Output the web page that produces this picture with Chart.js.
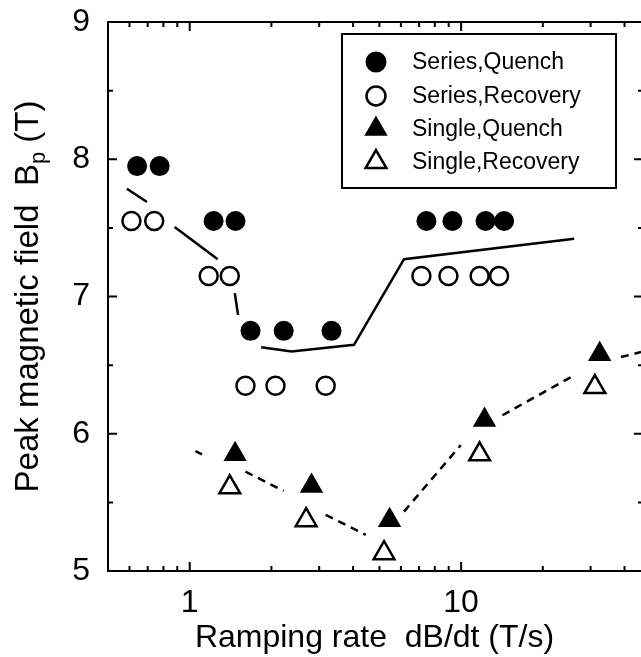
<!DOCTYPE html>
<html>
<head>
<meta charset="utf-8">
<title>Peak magnetic field vs ramping rate</title>
<script src="https://cdn.jsdelivr.net/npm/chart.js@4.4.1/dist/chart.umd.min.js"></script>
<style>
    html, body { margin: 0; padding: 0; background: #fff; overflow: hidden; }
    #grafico { display: block; }
</style>
</head>
<body>
<canvas id="grafico" width="641" height="657"></canvas>
<script>
// ramping rate dB/dt (T/s) x peak field Bp (T)
const rampSeriesQuench = [0.64, 0.775, 1.225, 1.475, 1.675, 2.22, 3.33, 7.45, 9.29, 12.3, 14.4];
const bpSeriesQuench = [7.95, 7.95, 7.55, 7.55, 6.75, 6.75, 6.75, 7.55, 7.55, 7.55, 7.55];

const rampSeriesRecovery = [0.61, 0.74, 1.175, 1.405, 1.605, 2.07, 3.17, 7.14, 8.98, 11.7, 13.8];
const bpSeriesRecovery = [7.55, 7.55, 7.15, 7.15, 6.35, 6.35, 6.35, 7.15, 7.15, 7.15, 7.15];

const rampSingleQuench = [1.47, 2.81, 5.45, 12.2, 32.4];
const bpSingleQuench = [5.85, 5.62, 5.37, 6.10, 6.58];

const rampSingleRecovery = [1.405, 2.685, 5.2, 11.7, 31.1];
const bpSingleRecovery = [5.61, 5.37, 5.13, 5.85, 6.34];

// guide lines, null = break in the line
const fitSeriesX = [0.587, 0.696, null, 0.88, 1.268, null, 1.466, 1.507, null, 1.833, 2.373, 4.03, 6.16, 26.1];
const fitSeriesY = [7.785, 7.688, null, 7.507, 7.272, null, 7.025, 6.866, null, 6.631, 6.599, 6.648, 7.272, 7.42];

const fitSingleX = [1.05, 1.11, null, 1.605, 2.22, null, 3.17, 4.45, null, 6.16, 9.97, null, 14.2, 25.4, null, 38.8, 46];
const fitSingleY = [5.873, 5.849, null, 5.724, 5.583, null, 5.409, 5.264, null, 5.433, 5.917, null, 6.135, 6.413, null, 6.559, 6.595];

const legendas = ['Series,Quench', 'Series,Recovery', 'Single,Quench', 'Single,Recovery'];

// axis ticks
const xMajor = [1, 10];
const xMinor = [0.6, 0.7, 0.8, 0.9, 2, 3, 4, 5, 6, 7, 8, 9, 20, 30, 40];
const yMajor = [5, 6, 7, 8, 9];
const yMinor = [5.5, 6.5, 7.5, 8.5];

const fonte = "'Liberation Sans', Arial, sans-serif";

function pares(xs, ys) {
    var lista = [];
    for (var i = 0; i < xs.length; i++) {
        if (ys[i] == null) {
            lista.push({ x: xs[i - 1], y: null });
        } else {
            lista.push({ x: xs[i], y: ys[i] });
        }
    }
    return lista;
}

// frame (left, top, bottom) with inward ticks on all four sides
const moldura = {
    id: 'moldura',
    afterDatasetsDraw(chart) {
        const ctx = chart.ctx;
        const a = chart.chartArea;
        const sx = chart.scales.x;
        const sy = chart.scales.y;
        ctx.save();
        ctx.strokeStyle = '#000';
        ctx.lineWidth = 2;
        ctx.beginPath();
        ctx.moveTo(a.right + 2, a.top);
        ctx.lineTo(a.left, a.top);
        ctx.lineTo(a.left, a.bottom);
        ctx.lineTo(a.right + 2, a.bottom);
        ctx.stroke();

        function marcaX(v, tam) {
            const px = sx.getPixelForValue(v);
            ctx.beginPath();
            ctx.moveTo(px, a.bottom);
            ctx.lineTo(px, a.bottom - tam);
            ctx.moveTo(px, a.top);
            ctx.lineTo(px, a.top + tam);
            ctx.stroke();
        }
        function marcaY(v, tam) {
            const py = sy.getPixelForValue(v);
            ctx.beginPath();
            ctx.moveTo(a.left, py);
            ctx.lineTo(a.left + tam, py);
            ctx.moveTo(a.right, py);
            ctx.lineTo(a.right - tam + 2, py);
            ctx.stroke();
        }
        xMajor.forEach(v => marcaX(v, 9));
        xMinor.forEach(v => marcaX(v, 5));
        yMajor.forEach(v => marcaY(v, 9));
        yMinor.forEach(v => marcaY(v, 5));
        ctx.restore();
    }
};

// y title with subscript p
const tituloY = {
    id: 'tituloY',
    afterDraw(chart) {
        const ctx = chart.ctx;
        const a = chart.chartArea;
        const partes = [
            { t: 'Peak magnetic field  B', f: 33, dy: 0 },
            { t: 'p', f: 22, dy: 10 },
            { t: ' (T)', f: 33, dy: 0 }
        ];
        ctx.save();
        ctx.fillStyle = '#000';
        ctx.textBaseline = 'middle';
        ctx.textAlign = 'left';
        var total = 0;
        partes.forEach(p => {
            ctx.font = p.f + 'px ' + fonte;
            p.w = ctx.measureText(p.t).width;
            total += p.w;
        });
        ctx.translate(29, (a.top + a.bottom) / 2);
        ctx.rotate(-Math.PI / 2);
        var x = -total / 2;
        partes.forEach(p => {
            ctx.font = p.f + 'px ' + fonte;
            ctx.fillText(p.t, x, p.dy);
            x += p.w;
        });
        ctx.restore();
    }
};

// boxed legend inside the plot
const legendaBox = {
    id: 'legendaBox',
    afterDraw(chart) {
        const ctx = chart.ctx;
        ctx.save();
        ctx.fillStyle = '#fff';
        ctx.fillRect(342, 34, 274, 154);
        ctx.strokeStyle = '#000';
        ctx.lineWidth = 2;
        ctx.strokeRect(342, 34, 274, 154);
        const linhas = [62, 96, 129, 162];
        for (var i = 0; i < 4; i++) {
            const ds = chart.data.datasets[i];
            ctx.fillStyle = ds.backgroundColor;
            ctx.strokeStyle = ds.borderColor;
            ctx.lineWidth = ds.borderWidth;
            Chart.helpers.drawPoint(ctx, {
                pointStyle: ds.pointStyle,
                radius: ds.pointStyle == 'circle' ? 9.5 : 12,
                rotation: 0,
                borderWidth: ds.borderWidth
            }, 376, linhas[i]);
            ctx.fillStyle = '#000';
            ctx.font = '23px ' + fonte;
            ctx.textBaseline = 'middle';
            ctx.textAlign = 'left';
            ctx.fillText(legendas[i], 412, linhas[i] + 1);
        }
        ctx.restore();
    }
};

const ctxGrafico = document.getElementById('grafico');

new Chart(ctxGrafico, {
    type: 'scatter',
    data: {
        datasets: [{
            label: legendas[0],
            data: pares(rampSeriesQuench, bpSeriesQuench),
            pointStyle: 'circle',
            pointRadius: 9,
            backgroundColor: '#000',
            borderColor: '#000',
            borderWidth: 2
        }, {
            label: legendas[1],
            data: pares(rampSeriesRecovery, bpSeriesRecovery),
            pointStyle: 'circle',
            pointRadius: 9,
            backgroundColor: 'rgba(0,0,0,0)',
            borderColor: '#000',
            borderWidth: 2.5
        }, {
            label: legendas[2],
            data: pares(rampSingleQuench, bpSingleQuench),
            pointStyle: 'triangle',
            pointRadius: 12,
            backgroundColor: '#000',
            borderColor: '#000',
            borderWidth: 1.5
        }, {
            label: legendas[3],
            data: pares(rampSingleRecovery, bpSingleRecovery),
            pointStyle: 'triangle',
            pointRadius: 12,
            backgroundColor: 'rgba(0,0,0,0)',
            borderColor: '#000',
            borderWidth: 2.5
        }, {
            label: 'fit series',
            data: pares(fitSeriesX, fitSeriesY),
            showLine: true,
            spanGaps: false,
            pointRadius: 0,
            borderColor: '#000',
            borderWidth: 2.5
        }, {
            label: 'fit single',
            data: pares(fitSingleX, fitSingleY),
            showLine: true,
            spanGaps: false,
            pointRadius: 0,
            borderColor: '#000',
            borderWidth: 2.5,
            borderDash: [8, 6]
        }]
    },
    options: {
        responsive: false,
        animation: false,
        devicePixelRatio: 1,
        layout: {
            // no extra room for big markers, frame runs to the right edge
            autoPadding: false,
            padding: { top: 22, right: 0, left: 0, bottom: 0 }
        },
        scales: {
            x: {
                type: 'logarithmic',
                bounds: 'data',
                min: 0.5,
                max: 46,
                grid: { display: false },
                border: { display: false },
                afterBuildTicks: (s) => { s.ticks = xMajor.map(v => ({ value: v })); },
                afterFit: (s) => {
                    s.height = 86;
                    s.paddingLeft = 0;
                    s.paddingRight = 0;
                },
                ticks: {
                    autoSkip: false,
                    maxRotation: 0,
                    padding: 5,
                    color: '#000',
                    font: { family: fonte, size: 32 },
                    callback: (v) => String(v)
                },
                title: {
                    display: true,
                    text: 'Ramping rate  dB/dt (T/s)',
                    color: '#000',
                    padding: { top: 0, bottom: 0 },
                    font: { family: fonte, size: 32 }
                }
            },
            y: {
                min: 5,
                max: 9,
                grid: { display: false },
                border: { display: false },
                afterFit: (s) => {
                    s.width = 108;
                    s.paddingTop = 0;
                    s.paddingBottom = 0;
                },
                ticks: {
                    stepSize: 1,
                    padding: 10,
                    color: '#000',
                    font: { family: fonte, size: 32 }
                }
            }
        },
        plugins: {
            legend: { display: false },
            tooltip: { enabled: false }
        }
    },
    plugins: [moldura, tituloY, legendaBox]
});
</script>
</body>
</html>
